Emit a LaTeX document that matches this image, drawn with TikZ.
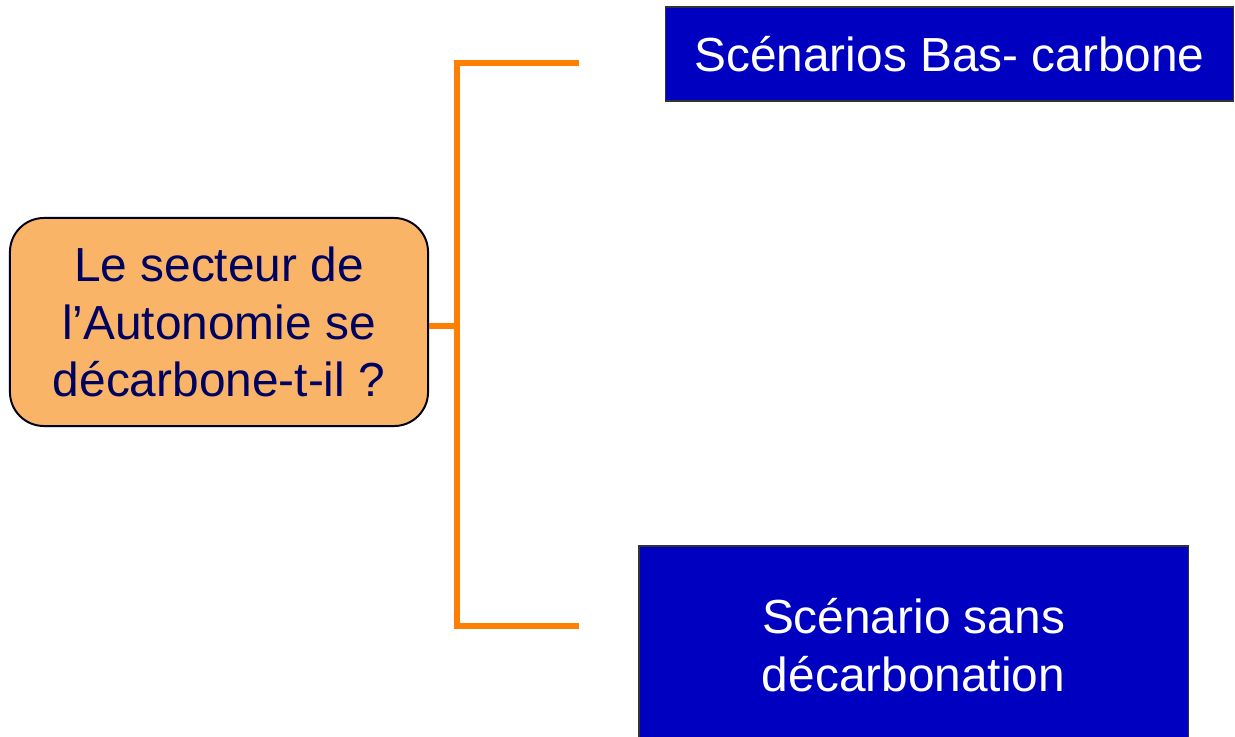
\documentclass[tikz,border=0pt]{standalone}
\usepackage{fontspec}
\setmainfont{Liberation Sans}
\usepackage{tikz}
\usetikzlibrary{calc}
\definecolor{qorange}{HTML}{F9B468}
\definecolor{qnavy}{HTML}{000060}
\definecolor{sblue}{HTML}{0000C0}
\definecolor{brorange}{HTML}{FF8000}
\tikzset{
  questbox/.style={draw=black!90!blue,line width=1.4pt,fill=qorange,rounded corners=0.85cm,
    text=qnavy,align=center,inner sep=0pt,minimum width=10.45cm,minimum height=5.2cm,
    font=\fontsize{34}{41}\selectfont},
  scenbox/.style={draw=black!80,line width=0.8pt,fill=sblue,text=white,align=center,
    inner sep=0pt,font=\fontsize{34}{41}\selectfont},
  brline/.style={brorange,line width=4.3pt}
}

\begin{document}
\begin{tikzpicture}[x=0.025cm,y=-0.025cm]
        \clip (0,0) rectangle (1235,736);
        \fill[white] (0,0) rectangle (1235,736);

        %nodes
        \node[questbox] (quest) at (219,322) {Le secteur de\\l'Autonomie se\\décarbone-t-il ?};
        \node[scenbox,minimum width=14.175cm,minimum height=2.35cm] (bascarb) at (949.5,54) {Scénarios Bas- carbone};
        \node[scenbox,minimum width=13.725cm,minimum height=4.95cm] (sansdec) at (913.5,645) {Scénario sans\\décarbonation};

        %bracket
        \coordinate (spine) at (457,326);
        \coordinate (toptip) at (579,63);
        \coordinate (bottip) at (579,626);
        \draw[brline] (quest.east |- spine) -- (spine);
        \draw[brline] (toptip) -- (spine |- toptip) -- (spine |- bottip) -- (bottip);
\end{tikzpicture}
\end{document}
